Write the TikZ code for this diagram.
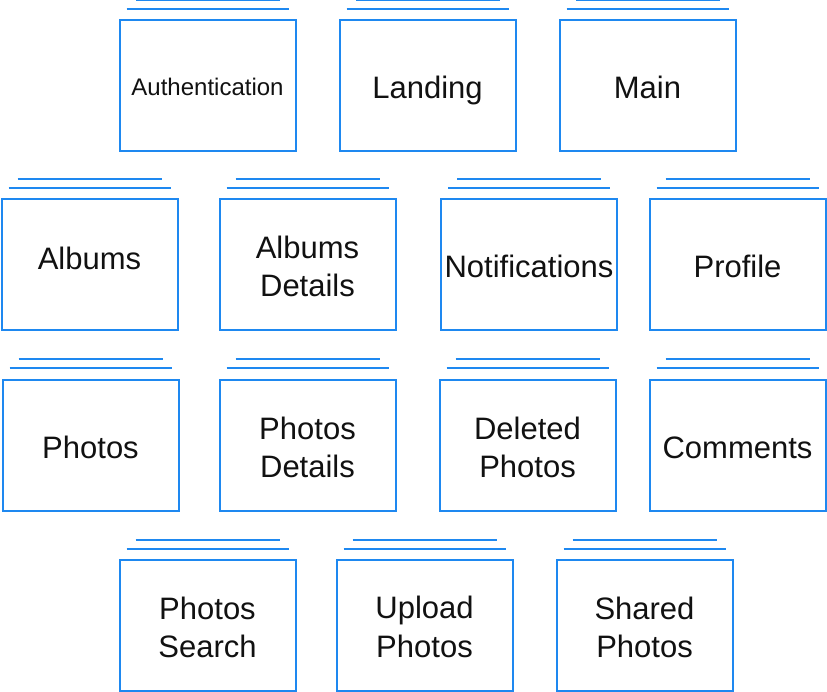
\documentclass[tikz,border=0pt]{standalone}
\usepackage{fontspec}
\setmainfont{Liberation Sans}
\usepackage{xcolor}
\usetikzlibrary{calc}
\definecolor{ScreenEdge}{HTML}{1E88F0}
\definecolor{ScreenInk}{HTML}{111111}
% fixed line height so every label sits alike
\newcommand\lh{\rule[-6pt]{0pt}{38pt}}
\newcommand\lhs{\rule[-4pt]{0pt}{28pt}}
\tikzset{
  screen/.style={draw=ScreenEdge, fill=white, line width=2pt, minimum width=176pt, minimum height=131pt, align=center, inner sep=0pt, text=ScreenInk, font=\fontsize{31}{38}\selectfont},
  stackline/.style={draw=ScreenEdge, line width=2pt},
}
\begin{document}
\begin{tikzpicture}[x=1pt, y=-1pt]
  \useasboundingbox (0,0) rectangle (827,692);
  % first row
  \node[screen, font=\fontsize{24}{29}\selectfont] (auth) at (207.5,85.5) {\lhs Authentication};
  \node[screen] (landing) at (427.5,85.5) {\lh Landing};
  \node[screen] (main) at (647.5,85.5) {\lh Main};
  % second row
  \node[screen] (albums) at (89.5,265) {\lh\raisebox{8pt}[0pt][0pt]{Albums}};
  \node[screen] (albumsdet) at (307.5,265) {\lh Albums\\\lh Details};
  \node[screen] (notif) at (529,265) {\lh Notifications};
  \node[screen] (profile) at (737.5,265) {\lh Profile};
  % third row
  \node[screen] (photos) at (90.5,445) {\lh Photos};
  \node[screen] (photosdet) at (307.5,445) {\lh Photos\\\lh Details};
  \node[screen] (deleted) at (527.5,445) {\lh Deleted\\\lh Photos};
  \node[screen] (comments) at (737.5,445) {\lh Comments};
  % fourth row
  \node[screen] (search) at (207.5,625) {\lh Photos\\\lh Search};
  \node[screen] (upload) at (424.5,625) {\lh Upload\\\lh Photos};
  \node[screen] (shared) at (644.5,625) {\lh Shared\\\lh Photos};
  % stacked pages behind each screen
  \foreach \s in {auth,landing,main,albums,albumsdet,notif,profile,photos,photosdet,deleted,comments,search,upload,shared} {
    \draw[stackline] ($(\s.north west)+(8,-10)$) -- ($(\s.north east)+(-8,-10)$);
    \draw[stackline] ($(\s.north west)+(17,-19)$) -- ($(\s.north east)+(-17,-19)$);
  }
\end{tikzpicture}
\end{document}
